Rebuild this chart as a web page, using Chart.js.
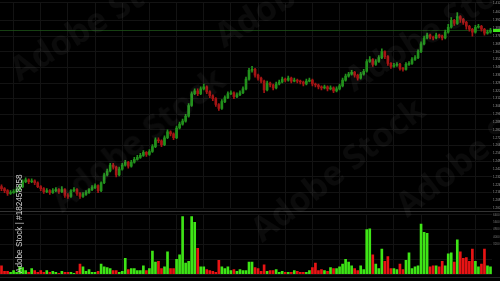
<!DOCTYPE html>
<html lang="en">
<head>
  <meta charset="UTF-8" />
  <title>Candles + volume</title>
  <script src="https://cdn.jsdelivr.net/npm/chart.js"></script>
  <style>
    html, body { margin: 0; padding: 0; background: #000; }
    body { width: 500px; height: 281px; position: relative; overflow: hidden; font-family: "Open Sans", sans-serif; }
    #priceBox { position: absolute; left: 0; top: 0; width: 500px; height: 211px; }
    #volBox { position: absolute; left: 0; top: 212px; width: 500px; height: 65px; }
    .sep { position: absolute; left: 0; width: 500px; height: 1px; }
    .wm { position: absolute; color: rgba(255,255,255,0.045); font-weight: 700; font-size: 34px; white-space: nowrap; transform-origin: 0 0; }
    .stockid { position: absolute; left: 15px; top: 273px; transform: rotate(-90deg); transform-origin: 0 0;
      color: #d0d0d0; font-size: 8.2px; white-space: nowrap; font-family: "Liberation Sans", sans-serif; }
  </style>
</head>
<body>

  <div id="priceBox"><canvas id="chart-price" width="500" height="211"></canvas></div>
  <div class="sep" style="top:211px; background:#333;"></div>
  <div id="volBox"><canvas id="chart-vol" width="500" height="65"></canvas></div>
  <div class="sep" style="top:277px; background:#222;"></div>

  <!-- watermarks -->
  <div class="wm" style="left:0px; top:52px; transform:rotate(-32deg);">Adobe Stock</div>
  <div class="wm" style="left:205px; top:18px; transform:rotate(-32deg);">Adobe</div>
  <div class="wm" style="left:335px; top:62px; transform:rotate(-32deg);">Adobe Stock</div>
  <div class="wm" style="left:40px; top:185px; transform:rotate(-38deg);">Adobe Stock</div>
  <div class="wm" style="left:240px; top:215px; transform:rotate(-38deg);">Adobe Stock</div>
  <div class="wm" style="left:385px; top:190px; transform:rotate(-38deg);">Adobe Stock</div>
  <div class="stockid">Adobe Stock | #182458858</div>

  <script>
    // price candles (one per bar slot)
    const opens = [22,20,18,15,16,17,19,22,27,29,27,28,26,22,20,17,18,16,18,19,
      17,19,13,12,18,19,15,12,14,16,19,21,23,18,26,34,38,44,42,34,
      40,44,47,43,47,50,52,54,57,55,58,63,70,69,65,72,78,76,72,82,
      86,89,94,105,117,120,117,122,124,119,115,112,106,102,109,113,117,118,114,116,
      118,122,132,141,142,136,133,130,121,128,126,123,127,129,132,131,133,130,131,130,
      129,127,130,131,127,126,124,123,124,122,123,120,122,125,131,135,137,139,136,133,
      137,140,150,152,147,150,154,160,155,148,145,146,147,143,142,147,148,152,154,160,
      168,174,177,175,174,177,176,174,180,185,192,189,196,193,190,186,183,180,185,186,
      183,179,180];
    const closes = [20,18,15,16,17,19,22,27,29,27,28,26,22,20,17,18,16,18,19,17,
      19,13,12,18,19,15,12,14,16,19,21,23,18,26,34,38,44,42,34,40,
      44,47,43,47,50,52,54,57,55,58,63,70,69,65,72,78,76,72,82,86,
      89,94,105,117,120,117,122,124,119,115,112,106,102,109,113,117,118,114,116,118,
      122,132,141,142,136,133,130,121,128,126,123,127,129,132,131,133,130,131,130,129,
      127,130,131,127,126,124,123,124,122,123,120,122,125,131,135,137,139,136,133,137,
      140,150,152,147,150,154,160,155,148,145,146,147,143,142,147,148,152,154,160,168,
      174,177,175,174,177,176,174,180,185,192,189,196,193,190,186,183,180,185,186,183,
      179,180,182];
    const highs = [24,21,19,18,19,21,24,29,31,30,30,29,27,23,21,20,19,20,21,20,
      22,20,15,19,21,20,16,16,18,20,23,25,24,27,36,40,46,46,43,42,
      46,49,48,49,52,54,56,59,58,60,65,72,72,70,74,80,79,77,84,88,
      91,96,107,119,122,122,124,127,125,120,116,113,107,111,115,119,120,119,118,120,
      124,134,143,145,143,137,134,131,130,129,127,129,131,134,133,135,134,133,132,131,
      130,132,133,132,128,127,125,126,125,125,124,124,127,133,137,139,141,140,137,139,
      142,152,155,153,152,156,163,161,156,149,148,149,148,144,149,150,154,156,162,170,
      176,179,178,176,179,178,177,182,188,195,193,200,197,194,191,187,184,187,188,187,
      184,182,184];
    const lows = [18,16,13,14,15,16,18,21,26,25,26,24,21,18,15,16,14,15,17,15,
      16,11,10,11,17,13,10,11,13,15,18,20,16,17,25,33,37,40,32,33,
      39,43,41,42,46,49,51,53,53,54,57,62,67,63,64,71,74,70,71,81,
      85,88,93,104,116,115,116,121,117,113,110,104,100,101,108,112,116,112,113,115,
      117,121,131,139,134,131,128,118,120,124,121,122,126,128,129,130,128,129,128,127,
      125,126,129,125,124,122,121,122,120,121,118,119,121,124,130,134,136,134,131,132,
      136,139,149,145,146,149,153,153,146,143,144,145,141,140,141,146,147,151,153,159,
      167,173,173,172,173,174,172,173,179,184,187,188,190,188,183,181,176,179,184,181,
      177,178,179];
    // volume per candle
    const volumes = [9,3,3,2,4,2,8,7,4,2,6,4,2,4,2,4,2,3,2,1,
      3,2,2,2,1,3,11,8,3,5,2,2,3,11,8,7,6,4,4,2,
      3,17,5,6,6,4,4,9,4,6,25,13,14,6,8,24,6,6,16,21,
      62,12,14,62,56,28,8,8,5,4,3,2,15,8,6,8,4,5,3,5,
      4,4,13,13,7,6,3,10,3,4,4,5,2,3,2,2,2,4,3,2,
      2,2,4,7,12,4,5,4,3,7,6,6,8,11,16,13,9,6,4,9,
      5,48,49,21,11,6,27,14,19,6,6,5,11,5,15,23,6,8,9,54,
      45,44,8,9,9,8,14,9,22,23,13,37,24,17,18,14,27,14,8,11,
      27,9,8];

    const slots = closes.map((_, i) => i);
    const isUp = closes.map((c, i) => c >= opens[i]);
    const candleColors = isUp.map(u => u ? 'rgb(34,145,28)' : 'rgb(165,20,20)');
    const volColors = isUp.map(u => u ? 'rgb(62,228,22)' : 'rgb(232,20,20)');

    const gridCol = '#131313';

    // current price line + marker on the right axis
    const lastPrice = {
      id: 'lastPrice',
      beforeDatasetsDraw(chart) {
        const y = chart.scales.y.getPixelForValue(closes[closes.length - 1]);
        const ctx = chart.ctx;
        ctx.save();
        ctx.fillStyle = 'rgba(30,85,24,0.75)';
        ctx.fillRect(0, Math.round(y), chart.chartArea.right, 1);
        ctx.fillStyle = '#3ee81a';
        ctx.fillRect(chart.chartArea.right + 1, Math.round(y) - 1, 8, 3);
        ctx.restore();
      }
    };

    new Chart(document.getElementById('chart-price').getContext('2d'), {
      type: 'bar',
      data: {
        labels: slots,
        datasets: [
          { data: lows.map((l, i) => [l, highs[i]]), backgroundColor: candleColors,
            barThickness: 1, grouped: false, order: 2 },
          { data: opens.map((o, i) => [o, closes[i]]), backgroundColor: candleColors,
            barThickness: 2, grouped: false, order: 1 }
        ]
      },
      options: {
        responsive: false,
        animation: false,
        layout: { padding: 0 },
        plugins: { legend: { display: false }, tooltip: { enabled: false } },
        scales: {
          x: {
            offset: true,
            ticks: { display: false },
            grid: { color: c => c.index % 9 === 4 ? gridCol : 'transparent', drawTicks: false, offset: false },
            border: { display: false },
            afterFit: s => { s.height = 0; }
          },
          y: {
            position: 'right', min: 0, max: 210,
            ticks: { stepSize: 4, maxTicksLimit: 100, font: { size: 3 }, color: '#9a9a9a', padding: 1,
              callback: v => (1.20 + v / 1000).toFixed(4) },
            grid: { color: c => c.index % 4 === 0 ? gridCol : 'transparent', drawTicks: false },
            border: { display: false },
            afterFit: s => { s.width = 8; }
          }
        }
      },
      plugins: [lastPrice]
    });

    new Chart(document.getElementById('chart-vol').getContext('2d'), {
      type: 'bar',
      data: {
        labels: slots,
        datasets: [{ data: volumes, backgroundColor: volColors, barThickness: 2 }]
      },
      options: {
        responsive: false,
        animation: false,
        layout: { padding: 0 },
        plugins: { legend: { display: false }, tooltip: { enabled: false } },
        scales: {
          x: {
            offset: true,
            ticks: { display: false },
            grid: { color: c => c.index % 9 === 4 ? gridCol : 'transparent', drawTicks: false, offset: false },
            border: { display: false },
            afterFit: s => { s.height = 0; }
          },
          y: {
            position: 'right', min: 0, max: 64,
            ticks: { stepSize: 4, maxTicksLimit: 40, font: { size: 3 }, color: '#777', padding: 1,
              callback: v => v >= 28 ? String(v * 100) : '' },
            grid: { color: c => c.index % 4 === 0 ? gridCol : 'transparent', drawTicks: false },
            border: { display: false },
            afterFit: s => { s.width = 8; }
          }
        }
      }
    });
  </script>
</body>
</html>
